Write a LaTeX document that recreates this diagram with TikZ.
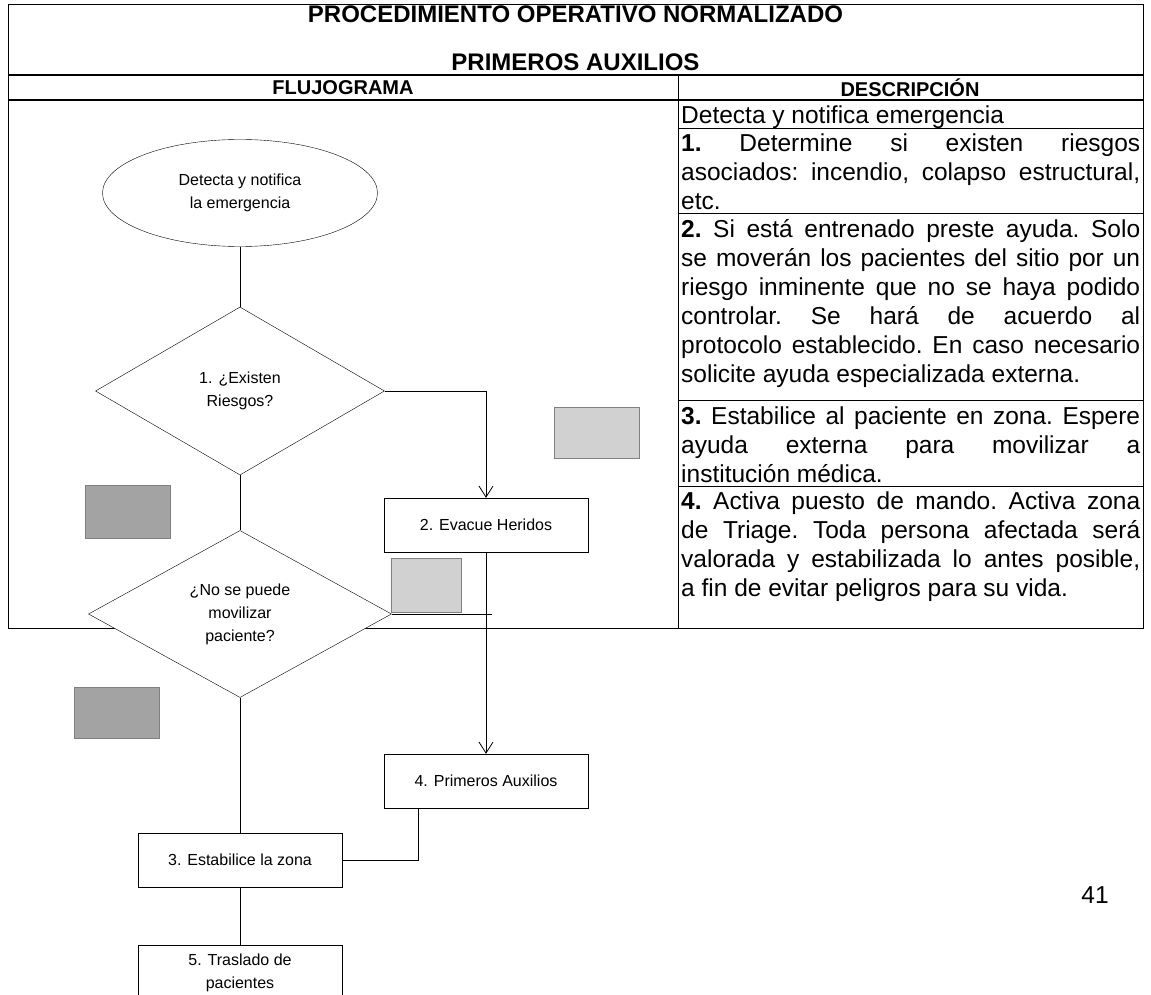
\documentclass[tikz,border=0pt]{standalone}
\usepackage{fontspec}
\setmainfont{Liberation Sans}
\usetikzlibrary{shapes.geometric,arrows.meta}
\newcommand\flujo{\fontsize{16}{23}\selectfont}
\newcommand\descr{\fontsize{24.5}{29}\selectfont\frenchspacing}
\newcommand\titulo{\fontsize{24}{29}\selectfont\bfseries}
\newcommand\cabeza{\fontsize{20}{24}\selectfont\bfseries}
\tikzset{
  inicio/.style = {ellipse, draw, fill=white, minimum width=275pt, minimum height=107pt, inner sep=0, align=center, font=\flujo},
  rombo/.style  = {diamond, draw, fill=white, inner sep=0, align=center, font=\flujo},
  caja/.style   = {rectangle, draw, fill=white, minimum width=204pt, minimum height=54pt, inner sep=0, align=center, font=\flujo},
  desc/.style   = {anchor=north west, inner sep=0, text width=459pt, align=justify, font=\descr},
  marco/.style  = {line width=0.9pt}, grueso/.style = {line width=1.5pt},
  link/.style   = {line width=0.8pt},
  mancha/.style = {draw=black!50, line width=0.6pt}
}

\begin{document}
\begin{tikzpicture}[x=1pt, y=-1pt, >={Straight Barb[length=11pt,width=14pt]}]
  \useasboundingbox (0,0) rectangle (1151,995);
  \clip (0,0) rectangle (1151,995);

  % tabla
  \draw[marco] (8,4) rectangle (1143,628);
  \draw[grueso] (8,75) -- (1143,75);
  \draw[grueso] (8,100) -- (1143,100);
  \draw[marco] (678,75) -- (678,628);
  \foreach \y in {128,213,400,486} \draw[marco] (678,\y) -- (1143,\y);

  \node[font=\titulo] (tit) at (575.5,14) {PROCEDIMIENTO OPERATIVO NORMALIZADO};
  \node[font=\titulo] (sub) at (575.5,62) {PRIMEROS AUXILIOS};
  \node[font=\cabeza] (flu) at (343,88) {FLUJOGRAMA};
  \node[font=\cabeza] (des) at (910,88) {DESCRIPCIÓN};

  % descripcion
  \node[desc] (d0) at (681,106) {Detecta y notifica emergencia};
  \node[desc] (d1) at (681,134) {\textbf{1.} Determine si existen riesgos\linebreak asociados: incendio, colapso estructural,\linebreak etc.};
  \node[desc] (d2) at (681,219) {\textbf{2.} Si está entrenado preste ayuda. Solo\linebreak se moverán los pacientes del sitio por un\linebreak riesgo inminente que no se haya podido\linebreak controlar. Se hará de acuerdo al\linebreak protocolo establecido. En caso necesario\linebreak solicite ayuda especializada externa.};
  \node[desc] (d3) at (681,407) {\textbf{3.} Estabilice al paciente en zona. Espere\linebreak ayuda externa para movilizar a\linebreak institución médica.};
  \node[desc] (d4) at (681,492) {\textbf{4.} Activa puesto de mando. Activa zona\linebreak de Triage. Toda persona afectada será\linebreak valorada y estabilizada lo antes posible,\linebreak a fin de evitar peligros para su vida.};

  % manchas grises
  \filldraw[mancha, fill=black!36] (85,485) rectangle (170,538);
  \filldraw[mancha, fill=black!36] (74,687) rectangle (159,738);
  \filldraw[mancha, fill=black!18] (554,407) rectangle (639,458);
  \filldraw[mancha, fill=black!18] (391,558) rectangle (461,612);

  % flujograma
  \node[inicio] (ini) at (240,193) {Detecta y notifica\\la emergencia};
  \node[rombo, minimum width=289pt, minimum height=168pt] (r1) at (240,391) {1. ¿Existen\\Riesgos?};
  \node[caja] (evac) at (486,525) {2. Evacue Heridos};
  \node[rombo, minimum width=303pt, minimum height=167pt] (r2) at (240,614) {¿No se puede\\movilizar\\paciente?};
  \node[caja] (prim) at (486,781) {4. Primeros Auxilios};
  \node[caja] (estab) at (240,860) {3. Estabilice la zona};
  \node[caja, minimum height=56pt] (tras) at (240,973) {5. Traslado de\\pacientes};
  \coordinate (tee) at (r2.east -| evac.south);

  \draw[link] (ini.south) -- (r1.north);
  \draw[link,->] (r1.east) -| (evac.north);
  \draw[link] (r1.south) -- (r2.north);
  \draw[link,->] (evac.south) -- (prim.north);
  \draw[link] (r2.east) -- ([xshift=6pt]tee);
  \draw[link] (r2.south) -- (estab.north);
  \draw[link] ([xshift=-68pt]prim.south) |- (estab.east);
  \draw[link] (estab.south) -- (tras.north);

  \node[font=\descr] (pag) at (1095,895) {41};
\end{tikzpicture}
\end{document}
